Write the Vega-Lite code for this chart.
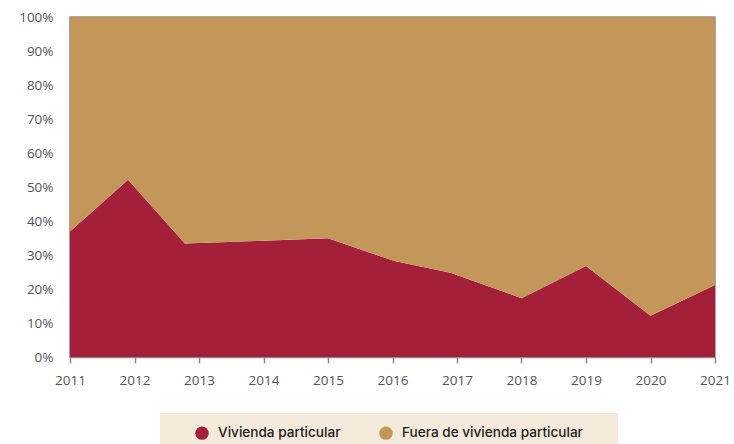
{
  "$schema": "https://vega.github.io/schema/vega-lite/v6.json",
  "width": 645,
  "height": 340,
  "autosize": {"type": "none"},
  "padding": {"left": 70, "top": 17, "right": 19, "bottom": 87},
  "background": "white",
  "view": {"stroke": "#8a8a8a", "strokeWidth": 1.5},
  "data": {
    "values": [
      {"year": 2011, "serie": "Vivienda particular", "pct": 36.9},
      {"year": 2011.9, "serie": "Vivienda particular", "pct": 52.1},
      {"year": 2012.78, "serie": "Vivienda particular", "pct": 33.4},
      {"year": 2014, "serie": "Vivienda particular", "pct": 34.2},
      {"year": 2015, "serie": "Vivienda particular", "pct": 34.9},
      {"year": 2016.03, "serie": "Vivienda particular", "pct": 28.2},
      {"year": 2016.9, "serie": "Vivienda particular", "pct": 24.8},
      {"year": 2018, "serie": "Vivienda particular", "pct": 17.3},
      {"year": 2019, "serie": "Vivienda particular", "pct": 26.8},
      {"year": 2020, "serie": "Vivienda particular", "pct": 12.1},
      {"year": 2021, "serie": "Vivienda particular", "pct": 21.2},
      {"year": 2011, "serie": "Fuera de vivienda particular", "pct": 63.1},
      {"year": 2011.9, "serie": "Fuera de vivienda particular", "pct": 47.9},
      {"year": 2012.78, "serie": "Fuera de vivienda particular", "pct": 66.6},
      {"year": 2014, "serie": "Fuera de vivienda particular", "pct": 65.8},
      {"year": 2015, "serie": "Fuera de vivienda particular", "pct": 65.1},
      {"year": 2016.03, "serie": "Fuera de vivienda particular", "pct": 71.8},
      {"year": 2016.9, "serie": "Fuera de vivienda particular", "pct": 75.2},
      {"year": 2018, "serie": "Fuera de vivienda particular", "pct": 82.7},
      {"year": 2019, "serie": "Fuera de vivienda particular", "pct": 73.2},
      {"year": 2020, "serie": "Fuera de vivienda particular", "pct": 87.9},
      {"year": 2021, "serie": "Fuera de vivienda particular", "pct": 78.8}
    ]
  },
  "mark": {"type": "area", "opacity": 1},
  "encoding": {
    "x": {
      "field": "year",
      "type": "quantitative",
      "scale": {"domain": [2011, 2021], "nice": false, "zero": false},
      "axis": {
        "title": null,
        "values": [2011, 2012, 2013, 2014, 2015, 2016, 2017, 2018, 2019, 2020, 2021],
        "format": "d",
        "grid": false,
        "domainColor": "#8a8a8a",
        "domainWidth": 1.5,
        "tickColor": "#8a8a8a",
        "tickWidth": 1.5,
        "tickSize": 6,
        "labelFont": "Open Sans",
        "labelFontSize": 13.5,
        "labelColor": "#555555",
        "labelPadding": 10,
        "labelFlush": false
      }
    },
    "y": {
      "field": "pct",
      "type": "quantitative",
      "stack": "zero",
      "scale": {"domain": [0, 100], "nice": false},
      "axis": {
        "title": null,
        "values": [0, 10, 20, 30, 40, 50, 60, 70, 80, 90, 100],
        "labelExpr": "datum.value + '%'",
        "grid": false,
        "ticks": false,
        "domainColor": "#8a8a8a",
        "domainWidth": 1.5,
        "labelFont": "Open Sans",
        "labelFontSize": 13.5,
        "labelColor": "#555555",
        "labelPadding": 17
      }
    },
    "color": {
      "field": "serie",
      "type": "nominal",
      "scale": {
        "domain": ["Vivienda particular", "Fuera de vivienda particular"],
        "range": ["#A31F3A", "#C3975A"]
      },
      "legend": {
        "orient": "none",
        "legendX": 90,
        "legendY": 396,
        "direction": "horizontal",
        "title": "\u00a0",
        "titleOrient": "right",
        "titlePadding": 22,
        "fillColor": "#F3EADC",
        "padding": 13,
        "symbolType": "circle",
        "symbolSize": 180,
        "symbolOffset": 22,
        "symbolStrokeWidth": 0,
        "symbolOpacity": 1,
        "labelFont": "Inter",
        "labelFontSize": 13.6,
        "labelFontWeight": 500,
        "labelColor": "#222222",
        "labelOffset": 9,
        "columnPadding": 16,
        "labelLimit": 300
      }
    },
    "order": {"field": "serie", "sort": "descending"}
  }
}
